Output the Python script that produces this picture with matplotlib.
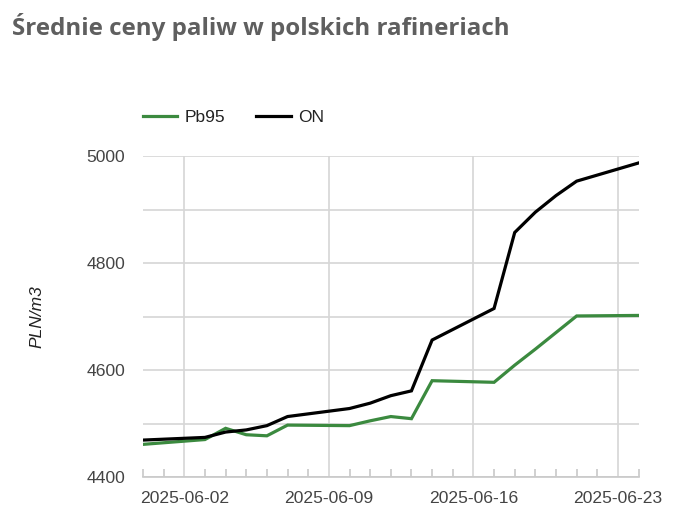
import matplotlib
matplotlib.use("Agg")
import matplotlib.pyplot as plt
import matplotlib.dates as mdates
import numpy as np
from matplotlib.ticker import MultipleLocator

dates = ["2025-05-31", "2025-06-03", "2025-06-04", "2025-06-05", "2025-06-06",
         "2025-06-07", "2025-06-10", "2025-06-11", "2025-06-12", "2025-06-13",
         "2025-06-14", "2025-06-17", "2025-06-18", "2025-06-19", "2025-06-20",
         "2025-06-21", "2025-06-24"]
pb95 = [4461, 4470, 4491, 4479, 4477, 4497, 4496, 4505, 4513, 4509,
        4580, 4577, 4609, 4639, 4670, 4701, 4702]
on = [4469, 4474, 4484, 4488, 4496, 4513, 4528, 4538, 4552, 4561,
      4656, 4715, 4857, 4895, 4926, 4953, 4987]
title = "Średnie ceny paliw w polskich rafineriach"
ylabel = "PLN/m3"
y_ticks = [4400, 4600, 4800, 5000]

x = np.array(dates, dtype="datetime64[D]")

plt.rcParams['font.family'] = ['Liberation Sans', 'DejaVu Sans']
fig = plt.figure(figsize=(6.76, 5.27), dpi=100)
ax = fig.add_axes([143/676, 1-477/527, (638.6-143)/676, (477-156)/527])

green = "#3b8a3f"
ax.plot(x, pb95, color=green, lw=2.3, label="Pb95", solid_joinstyle="miter", zorder=3)
ax.plot(x, on, color="black", lw=2.3, label="ON", solid_joinstyle="miter", zorder=3)

ax.set_xlim(np.datetime64("2025-05-31"), np.datetime64("2025-06-24"))
ax.set_ylim(4400, 5000)
ax.set_yticks(y_ticks)
ax.yaxis.set_minor_locator(MultipleLocator(100))
ax.xaxis.set_major_locator(mdates.WeekdayLocator(byweekday=mdates.MO))
ax.xaxis.set_major_formatter(mdates.DateFormatter("%Y-%m-%d"))
ax.xaxis.set_minor_locator(mdates.DayLocator())

gc = "#d6d6d6"
ax.grid(True, which="major", color=gc, lw=1.2)
ax.grid(True, which="minor", axis="y", color=gc, lw=1.2)
for s in ["top", "right", "left"]:
    ax.spines[s].set_visible(False)
ax.spines["bottom"].set_color("#c8c8c8")
ax.spines["bottom"].set_linewidth(1.2)

ax.tick_params(axis="y", which="both", length=0, labelsize=12.6, labelcolor="#444444", pad=13)
ax.tick_params(axis="x", which="major", direction="in", length=0, labelsize=12.6,
               labelcolor="#444444", pad=10)
ax.tick_params(axis="x", which="minor", direction="in", length=6, color="#c8c8c8", width=1.2)

ax.set_ylabel(ylabel, fontsize=12.5, style="italic", color="#222222", labelpad=30)

fig.text(12/676, 1-35/527, title, fontsize=17.4, fontweight="bold",
         color="#5f5f5f", family=["Open Sans", "DejaVu Sans"], va="baseline")

leg = ax.legend(loc="center left", bbox_to_anchor=(142.5/676, 1-117/527),
                bbox_transform=fig.transFigure, ncol=2, frameon=False,
                fontsize=12.5, handlelength=2.0, handletextpad=0.42,
                columnspacing=1.8, borderpad=0, borderaxespad=0)
for t in leg.get_texts():
    t.set_color("#222222")

fig.savefig("out.png", dpi=100)
